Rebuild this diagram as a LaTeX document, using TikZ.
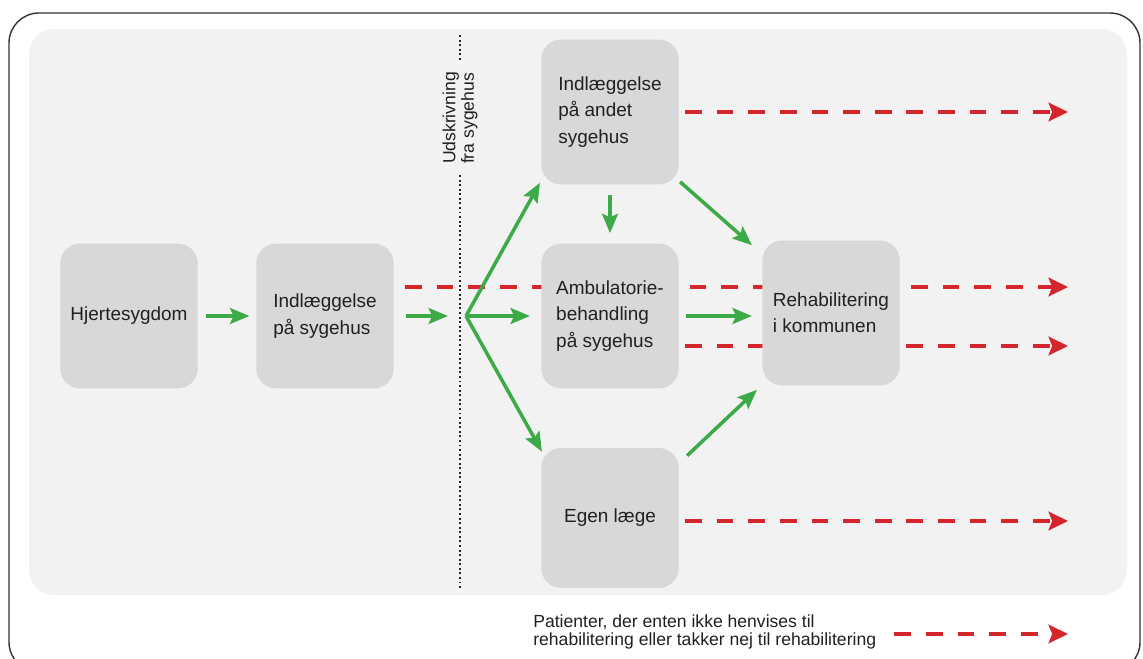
\documentclass[tikz,border=0pt]{standalone}
\usepackage{fontspec}
\setmainfont{Liberation Sans}
\usetikzlibrary{arrows.meta,calc,backgrounds}
\definecolor{boxgray}{RGB}{216,216,216}
\definecolor{panelgray}{RGB}{242,242,242}
\definecolor{arrgreen}{RGB}{60,170,70}
\definecolor{arrred}{RGB}{212,36,44}
\definecolor{txt}{RGB}{35,31,32}
\tikzset{
  box/.style={fill=boxgray, rounded corners=0.4cm, minimum width=2.75cm,
    minimum height=2.9cm, align=left, text=txt,
    font=\fontsize{10.8}{15}\selectfont},
  gr/.style={draw=arrgreen, line width=2pt,
    -{Stealth[length=11pt,width=9pt,inset=2pt]}},
  rd/.style={draw=arrred, line width=2.3pt, dash pattern=on 9.5pt off 8.5pt,
    -{Stealth[length=11pt,width=10.5pt,inset=2pt]}},
  dots/.style={draw=black!85, line width=1.1pt, dash pattern=on 1.1pt off 1.5pt}
}
\begin{document}
\begin{tikzpicture}[x=0.02cm, y=-0.02cm]
  \useasboundingbox (0,0) rectangle (1143,659);
  \draw[line width=0.8pt, draw=black!80, rounded corners=0.6cm] (9,13) rectangle (1140,672);
  \begin{scope}[on background layer]
    \fill[panelgray, rounded corners=0.5cm] (29,29) rectangle (1127,595);
  \end{scope}

  \node[box] (hj) at (129,316) {Hjertesygdom};
  \node[box] (ind) at (325,316) {Indlæggelse\\på sygehus};
  \node[box] (ands) at (610,112) {Indlæggelse\\på andet\\sygehus};
  \node[box] (amb) at (610,316) {Ambulatorie-\\behandling\\på sygehus};
  \node[box, minimum height=2.8cm] (egen) at (610,518) {Egen læge};
  \node[box] (rehab) at (831,313) {Rehabilitering\\i kommunen};

  \node[rotate=90, align=left, text=txt, inner sep=0pt,
    font=\fontsize{10}{10.5}\selectfont] (udsk) at (460,118) {Udskrivning\\fra sygehus};
  \coordinate (dt) at (460,35);
  \coordinate (db) at (460,590);
  \coordinate (ut) at (460,62);
  \coordinate (ub) at (460,175);
  \draw[dots] (dt) -- (ut);
  \draw[dots] (ub) -- (db);

  \coordinate (sp) at (466,316);
  \coordinate (r1) at (1068,112);
  \coordinate (r2) at (1068,287);
  \coordinate (r3) at (1068,346);
  \coordinate (r4) at (1068,521);
  \coordinate (r5) at (1068,634);

  \begin{scope}[on background layer]
    \draw[rd] ($(ind.east)+(11,-29)$) -- (r2);
    \draw[rd] ($(amb.east)+(6,30)$) -- (r3);
  \end{scope}
  \draw[rd, shorten <=0.12cm] (ands) -- (r1);
  \draw[rd, shorten <=0.12cm] (egen.east |- r4) -- (r4);

  \draw[gr, shorten <=0.16cm, shorten >=0.13cm] (hj) -- (ind);
  \draw[gr, shorten <=0.23cm, shorten >=0.36cm] (ind) -- (sp);
  \draw[gr, shorten >=0.22cm] (sp) -- (amb);
  \draw[gr] (sp) -- ($(ands.south west)+(-1,-2)$);
  \draw[gr] (sp) -- ($(egen.north west)+(1,4)$);
  \draw[gr, shorten <=0.2cm, shorten >=0.2cm] (ands) -- (amb);
  \draw[gr] ($(ands.south east)+(1,-3)$) -- ($(rehab.north west)+(-10,5)$);
  \draw[gr, shorten <=0.13cm, shorten >=0.2cm] (amb.east) -- (amb.east -| rehab.west);
  \draw[gr] ($(egen.north east)+(8,8)$) -- ($(rehab.south west)+(-5,4)$);

  \node[anchor=west, align=left, inner sep=0pt, text=txt,
    font=\fontsize{10}{10.6}\selectfont] (leg) at (533,632)
    {Patienter, der enten ikke henvises til\\rehabilitering eller takker nej til rehabilitering};
  \draw[rd, shorten <=0.36cm] (leg.east |- r5) -- (r5);
\end{tikzpicture}
\end{document}
